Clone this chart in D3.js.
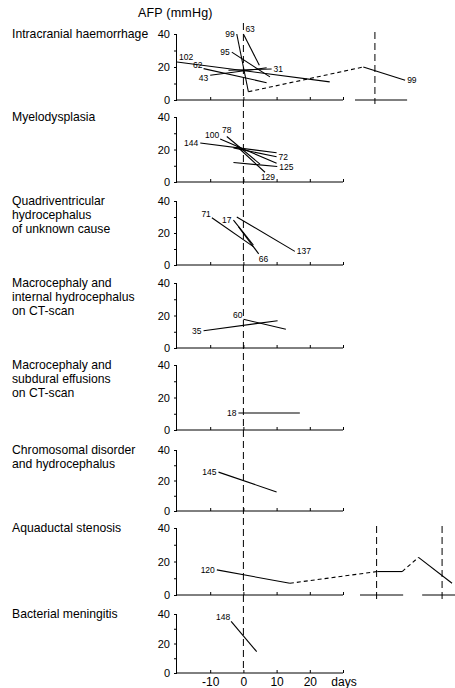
<!DOCTYPE html>
<html><head><meta charset="utf-8">
<script src="https://cdn.jsdelivr.net/npm/d3@7"></script>
<style>body{margin:0;background:#fff} svg{display:block}</style>
</head><body>
<script>
// ---------- DATA ----------
const yTitle = "AFP (mmHg)";
const xUnit = "days";
const panelTitles = [
  ["Intracranial haemorrhage"],
  ["Myelodysplasia"],
  ["Quadriventricular", "hydrocephalus", "of unknown cause"],
  ["Macrocephaly and", "internal hydrocephalus", "on CT-scan"],
  ["Macrocephaly and", "subdural effusions", "on CT-scan"],
  ["Chromosomal disorder", "and hydrocephalus"],
  ["Aquaductal stenosis"],
  ["Bacterial meningitis"]
];
const yDomain = [0, 40];
const yTicks = [0, 10, 20, 30, 40];
const yTickLabels = [0, 20, 40];
const xDomain = [-20, 30];
const xTicks = [-10, 0, 10, 20, 30];
const xTickLabels = [-10, 0, 10, 20];
// extra (broken) time-axis sections after the main axis, days relative to a later event (dashed line at 0)
const breakDomains = [
  [[-6, 9.7]], [], [], [], [], [], [[-5, 8], [-6, 6]], []
];
// series: points are [day, AFP, axis] (axis 0 = main, 1.. = break sections); dash = interrupted follow-up
const haemorrhage = [
  {id: "102", labelAt: ["start"], segs: [{dash: false, pts: [[-20, 23, 0], [26, 11, 0]]}]},
  {id: "62",  labelAt: ["start"], segs: [{dash: false, pts: [[-12, 19, 0], [7, 10.5, 0]]}]},
  {id: "43",  labelAt: ["start"], segs: [{dash: false, pts: [[-10, 15, 0], [7, 19.5, 0]]}]},
  {id: "31",  labelAt: ["end"],   segs: [{dash: false, pts: [[-4.5, 18, 0], [8.5, 18.8, 0]]}]},
  {id: "95",  labelAt: ["start"], segs: [{dash: false, pts: [[-3.5, 29, 0], [8, 14, 0]]}]},
  {id: "63",  labelAt: ["start"], segs: [{dash: false, pts: [[0, 40, 0], [4.8, 21, 0]]}]},
  {id: "99",  labelAt: ["start", "end"], segs: [
    {dash: false, pts: [[-2, 40, 0], [1.5, 5, 0]]},
    {dash: true,  pts: [[1.5, 5, 0], [-3.5, 20, 1]]},
    {dash: false, pts: [[-3.5, 20, 1], [9.1, 12, 1]]}]}
];
const myelodysplasia = [
  {id: "144", labelAt: ["start"], segs: [{dash: false, pts: [[-13, 24, 0], [10, 18, 0]]}]},
  {id: "100", labelAt: ["start"], segs: [{dash: false, pts: [[-7, 26.5, 0], [10, 11.5, 0]]}]},
  {id: "78",  labelAt: ["start"], segs: [{dash: false, pts: [[-5, 28, 0], [5, 11, 0]]}]},
  {id: "72",  labelAt: ["end"],   segs: [{dash: false, pts: [[-3, 21, 0], [10, 15.5, 0]]}]},
  {id: "125", labelAt: ["end"],   segs: [{dash: false, pts: [[-3, 12, 0], [10.2, 9.5, 0]]}]},
  {id: "129", labelAt: ["end"],   segs: [{dash: false, pts: [[-2, 22, 0], [6.5, 6, 0]]}]}
];
const quadriventricular = [
  {id: "71",  labelAt: ["start"], segs: [{dash: false, pts: [[-9.5, 29.5, 0], [3, 11.5, 0]]}]},
  {id: "17",  labelAt: ["start"], segs: [{dash: false, pts: [[-3, 28, 0], [3, 12.5, 0]]}]},
  {id: "66",  labelAt: ["end"],   segs: [{dash: false, pts: [[-1.5, 24, 0], [4.6, 7, 0]]}]},
  {id: "137", labelAt: ["end"],   segs: [{dash: false, pts: [[-2, 30, 0], [15.5, 8.5, 0]]}]}
];
const internalHydro = [
  {id: "35", labelAt: ["start"], segs: [{dash: false, pts: [[-12, 10.6, 0], [10.3, 16.8, 0]]}]},
  {id: "60", labelAt: ["start"], segs: [{dash: false, pts: [[0, 17.7, 0], [12.8, 11.5, 0]]}]}
];
const subdural = [
  {id: "18", labelAt: ["start"], segs: [{dash: false, pts: [[-1.5, 10.5, 0], [17, 10.5, 0]]}]}
];
const chromosomal = [
  {id: "145", labelAt: ["start"], segs: [{dash: false, pts: [[-7.5, 25.5, 0], [10, 12.5, 0]]}]}
];
const aquaductal = [
  {id: "120", labelAt: ["start"], segs: [
    {dash: false, pts: [[-8, 15, 0], [14, 7, 0]]},
    {dash: true,  pts: [[14, 7, 0], [0.2, 14, 1]]},
    {dash: false, pts: [[0.2, 14, 1], [7.7, 14, 1]]},
    {dash: true,  pts: [[7.7, 14, 1], [-7.1, 22.5, 2]]},
    {dash: false, pts: [[-7.1, 22.5, 2], [3, 7, 2]]}]}
];
const meningitis = [
  {id: "148", labelAt: ["start"], segs: [{dash: false, pts: [[-3.7, 35, 0], [4, 14.5, 0]]}]}
];
const panelSeries = [haemorrhage, myelodysplasia, quadriventricular, internalHydro,
                     subdural, chromosomal, aquaductal, meningitis];

// ---------- LAYOUT / STYLE ----------
const W = 455, H = 688;
const panelY = [[34, 100], [117, 182], [201, 265], [283, 348], [365, 430], [450, 511], [528, 595], [614, 673]];
const xLeft = 177, xRight = 343;
const breakGap = [[12], [], [], [], [], [], [17, 19], []];
// label placement codes per panel (id + s/e)
const labelPlace = [
  {"102s": "ne", "62s": "nw", "43s": "sw", "31e": "e", "95s": "w", "63s": "ne", "99s": "w", "99e": "e"},
  {"144s": "w", "100s": "nw", "78s": "n", "72e": "e", "125e": "e", "129e": "s"},
  {"71s": "nw", "17s": "w", "66e": "se", "137e": "e"},
  {"35s": "w", "60s": "nw"},
  {"18s": "w"},
  {"145s": "w"},
  {"120s": "w"},
  {"148s": "nw"}
];
const FONT = "'Liberation Sans', Arial, sans-serif";

const svg = d3.select("body").append("svg").attr("width", W).attr("height", H)
  .style("font-family", FONT);

const x = d3.scaleLinear().domain(xDomain).range([xLeft, xRight]);
const pxPerDay = (xRight - xLeft) / (xDomain[1] - xDomain[0]);

svg.append("text").attr("x", 138).attr("y", 17).attr("font-size", 12.5)
  .attr("letter-spacing", 0.2).text(yTitle);

// continuous day-0 dashed line
svg.append("line").attr("x1", x(0)).attr("x2", x(0)).attr("y1", 23).attr("y2", panelY[7][1] - 2)
  .attr("stroke", "#000").attr("stroke-width", 1).attr("stroke-dasharray", "7,4");

panelSeries.forEach((series, pi) => {
  const [yTop, yBot] = panelY[pi];
  const y = d3.scaleLinear().domain(yDomain).range([yBot, yTop]);
  const g = svg.append("g");

  // break scales
  const xs = [x];
  let start = xRight;
  breakDomains[pi].forEach((dom, bi) => {
    start += breakGap[pi][bi];
    const end = start + (dom[1] - dom[0]) * pxPerDay;
    xs.push(d3.scaleLinear().domain(dom).range([start, end]));
    start = end;
  });

  // title
  const t = g.append("text").attr("x", 12).attr("y", yTop + 4).attr("font-size", 12.2);
  panelTitles[pi].forEach((line, li) => {
    t.append("tspan").attr("x", 12).attr("dy", li === 0 ? 0 : 14).text(line);
  });

  // y axis
  const yAxis = d3.axisLeft(y).tickValues(yTicks).tickSize(3)
    .tickFormat(d => yTickLabels.includes(d) ? d : "");
  const ya = g.append("g").attr("transform", `translate(${xLeft},0)`).call(yAxis);
  ya.select(".domain").attr("d", `M-0.5,${yTop}V${yBot}`);
  ya.selectAll("text").attr("font-size", 11).attr("font-family", FONT).attr("dx", -1);

  // x axis main
  const xAxis = d3.axisBottom(x).tickValues(xTicks).tickSize(-3)
    .tickFormat(d => (pi === 7 && xTickLabels.includes(d)) ? d : "");
  const xa = g.append("g").attr("transform", `translate(0,${yBot})`).call(xAxis);
  xa.select(".domain").attr("d", `M${xLeft},0H${xRight}`);
  xa.selectAll("text").attr("font-size", 12).attr("font-family", FONT)
    .attr("y", 4).attr("dy", "0.71em");
  if (pi === 7) {
    g.append("text").attr("x", xRight + 1).attr("y", yBot + 12.5).attr("font-size", 12)
      .attr("text-anchor", "middle").text(xUnit);
  }

  // break sections
  xs.slice(1).forEach(s => {
    const [r0, r1] = s.range();
    g.append("line").attr("x1", r0).attr("x2", r1).attr("y1", yBot).attr("y2", yBot)
      .attr("stroke", "#000").attr("stroke-width", 1);
    g.append("line").attr("x1", s(0)).attr("x2", s(0)).attr("y1", yTop - 2).attr("y2", yBot + 4)
      .attr("stroke", "#000").attr("stroke-dasharray", "7,4");
  });

  const px = p => xs[p[2]](p[0]);
  const py = p => y(p[1]);
  const lineGen = d3.line().x(px).y(py);

  series.forEach(s => {
    s.segs.forEach(seg => {
      g.append("path").attr("d", lineGen(seg.pts)).attr("fill", "none")
        .attr("stroke", "#000").attr("stroke-width", 1.1)
        .attr("stroke-dasharray", seg.dash ? "4,3" : null);
    });
    s.labelAt.forEach(which => {
      const pts = which === "start" ? s.segs[0].pts : s.segs[s.segs.length - 1].pts;
      const p = which === "start" ? pts[0] : pts[pts.length - 1];
      const code = labelPlace[pi][s.id + (which === "start" ? "s" : "e")] || (which === "start" ? "w" : "e");
      let lx = px(p), ly = py(p), anchor = "start";
      if (code === "w") { lx -= 2; ly += 3; anchor = "end"; }
      else if (code === "e") { lx += 2; ly += 3; }
      else if (code === "nw") { lx -= 1; ly -= 1; anchor = "end"; }
      else if (code === "sw") { lx -= 2; ly += 6; anchor = "end"; }
      else if (code === "ne") { lx += 2; ly -= 2; }
      else if (code === "n") { ly -= 4; anchor = "middle"; }
      else if (code === "se") { lx += 0; ly += 8; }
      else if (code === "s") { lx += 3; ly += 8; anchor = "middle"; }
      g.append("text").attr("x", lx).attr("y", ly).attr("font-size", 8.5)
        .attr("text-anchor", anchor).text(s.id);
    });
  });
});
</script>
</body></html>
